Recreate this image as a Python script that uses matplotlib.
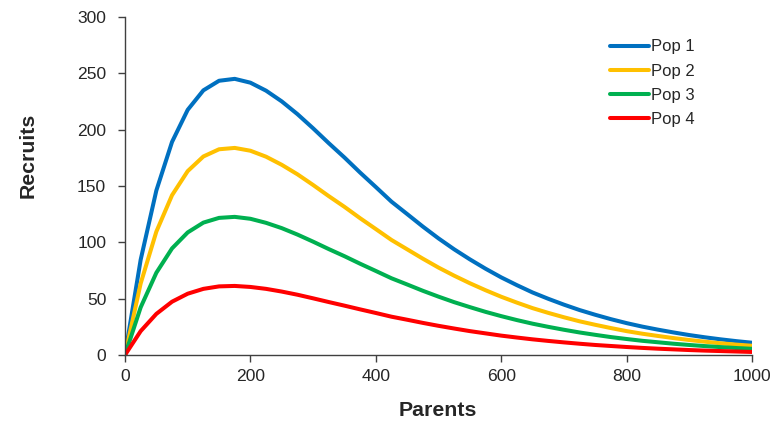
import matplotlib
matplotlib.use("Agg")
import matplotlib.pyplot as plt

parents = list(range(0, 1001, 25))
pop1 = [0, 84.6, 146.0, 189.1, 217.6, 234.9, 243.4, 245.1, 241.7, 234.6, 225.1, 213.8, 201.2, 188.0, 175.3,
        161.9, 149.1, 136.1, 125.1, 114.0, 103.5, 93.8, 84.9, 76.6, 68.9, 62.0, 55.5, 49.9, 44.7, 39.9,
        35.7, 31.8, 28.3, 25.2, 22.5, 20.0, 17.7, 15.7, 13.9, 12.3, 10.9]
pop2 = [0, 63.5, 109.5, 141.8, 163.2, 176.2, 182.6, 183.8, 181.3, 176.0, 168.8, 160.4, 150.9, 141.0, 131.5,
        121.4, 111.8, 102.1, 93.8, 85.5, 77.6, 70.4, 63.7, 57.5, 51.7, 46.5, 41.6, 37.4, 33.5, 29.9,
        26.8, 23.9, 21.2, 18.9, 16.9, 15.0, 13.3, 11.8, 10.4, 9.2, 8.2]
pop3 = [0, 42.3, 73.0, 94.6, 108.8, 117.5, 121.7, 122.6, 120.9, 117.3, 112.6, 106.9, 100.6, 94.0, 87.7,
        81.0, 74.6, 68.1, 62.6, 57.0, 51.8, 46.9, 42.5, 38.3, 34.5, 31.0, 27.8, 25.0, 22.4, 20.0,
        17.9, 15.9, 14.2, 12.6, 11.3, 10.0, 8.9, 7.9, 7.0, 6.2, 5.5]
pop4 = [0, 21.2, 36.5, 47.3, 54.4, 58.7, 60.9, 61.3, 60.4, 58.7, 56.3, 53.5, 50.3, 47.0, 43.8,
        40.5, 37.3, 34.0, 31.3, 28.5, 25.9, 23.5, 21.2, 19.2, 17.2, 15.5, 13.9, 12.5, 11.2, 10.0,
        8.9, 8.0, 7.1, 6.3, 5.6, 5.0, 4.4, 3.9, 3.5, 3.1, 2.7]
series = [("Pop 1", pop1, "#0070C0"), ("Pop 2", pop2, "#FFC000"),
          ("Pop 3", pop3, "#00B050"), ("Pop 4", pop4, "#FF0000")]

plt.rcParams['font.family'] = ['Liberation Sans', 'DejaVu Sans']
W, H = 775, 422
fig = plt.figure(figsize=(W / 100, H / 100), dpi=100)
ax = fig.add_axes([125 / W, 1 - 355 / H, (752 - 125) / W, (355 - 17) / H])
for name, vals, c in series:
    ax.plot(parents, vals, color=c, lw=2.9, label=name, solid_capstyle='round', solid_joinstyle='round')

ax.set_xlim(0, 1000)
ax.set_ylim(0, 300)
ax.set_xticks([0, 200, 400, 600, 800, 1000])
ax.set_yticks([0, 50, 100, 150, 200, 250, 300])
for s in ['top', 'right']:
    ax.spines[s].set_visible(False)
for s in ['left', 'bottom']:
    ax.spines[s].set_color('#404040')
    ax.spines[s].set_linewidth(1.0)
ax.tick_params(direction='out', length=5, width=1.0, color='#404040', labelcolor='#262626',
               labelsize=12.6)
ax.tick_params(axis='x', pad=5)
ax.tick_params(axis='y', pad=8.5)
fig.text(438 / W, 1 - 411 / H, "Parents", fontsize=15.3, fontweight='bold', color='#262626',
         ha='center', va='center')
fig.text(28 / W, 1 - 155.5 / H, "Recruits", fontsize=15.3, fontweight='bold', color='#262626',
         rotation=90, ha='center', va='center')
leg = ax.legend(loc='upper left', bbox_to_anchor=((609.5 - 125) / 627, 1 - (39.5 - 17) / 338),
                frameon=False, fontsize=12, handlelength=2.35, handletextpad=0.12,
                labelspacing=0.55, borderaxespad=0, borderpad=0)
for t in leg.get_texts():
    t.set_color('#262626')
fig.savefig("out.png", dpi=100)
